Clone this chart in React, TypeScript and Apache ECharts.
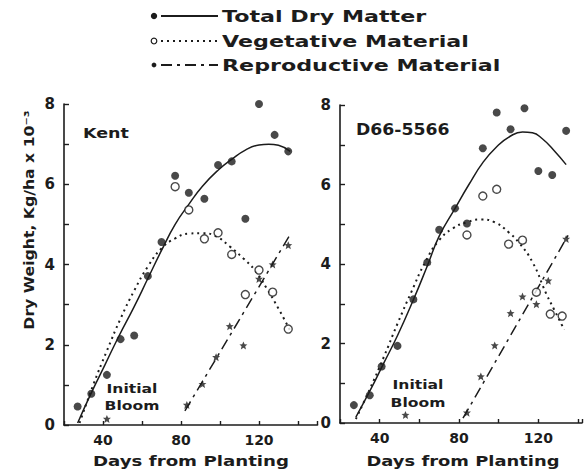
import React, { useEffect, useRef } from "react";
import * as echarts from "echarts";

// ---------- Data ----------
// Kent
const kentTotalDays = [27, 34, 42, 49, 56, 63, 70, 77, 84, 92, 99, 106, 113, 120, 128, 135];
const kentTotal = [0.46, 0.78, 1.25, 2.14, 2.23, 3.71, 4.56, 6.21, 5.79, 5.64, 6.48, 6.57, 5.14, 8.0, 7.23, 6.82];
const kentVegDays = [77, 84, 92, 99, 106, 113, 120, 127, 135];
const kentVeg = [5.94, 5.36, 4.64, 4.79, 4.25, 3.25, 3.86, 3.31, 2.39];
const kentReproDays = [42, 83, 91, 98, 105, 112, 120, 127, 135];
const kentRepro = [0.15, 0.5, 1.02, 1.69, 2.46, 1.98, 3.64, 4.0, 4.48];

const kentTotalFitDays = [27, 34, 41, 48, 56, 63, 70, 77, 84, 91, 99, 106, 113, 120, 125, 130, 136];
const kentTotalFit = [0.05, 0.8, 1.5, 2.2, 2.95, 3.65, 4.35, 5.0, 5.5, 5.95, 6.35, 6.62, 6.85, 6.98, 7.0, 6.97, 6.82];
const kentVegFitDays = [28, 35, 42, 49, 56, 63, 70, 77, 84, 91, 98, 105, 112, 118, 124, 130, 136];
const kentVegFit = [0.05, 1.0, 1.85, 2.65, 3.35, 3.95, 4.4, 4.65, 4.77, 4.78, 4.7, 4.45, 4.15, 3.85, 3.4, 2.9, 2.35];
const kentReproFitDays = [82, 136];
const kentReproFit = [0.35, 4.75];

// D66-5566
const d66TotalDays = [27, 35, 41, 49, 57, 64, 70, 78, 84, 92, 99, 106, 113, 120, 127, 134];
const d66Total = [0.45, 0.7, 1.42, 1.94, 3.11, 4.04, 4.86, 5.4, 5.02, 6.91, 7.81, 7.39, 7.92, 6.34, 6.24, 7.35];
const d66VegDays = [84, 92, 99, 105, 112, 119, 126, 132];
const d66Veg = [4.73, 5.71, 5.88, 4.5, 4.6, 3.29, 2.74, 2.69];
const d66ReproDays = [53, 84, 91, 98, 106, 112, 119, 125, 134];
const d66Repro = [0.2, 0.26, 1.17, 1.95, 2.76, 3.18, 2.99, 3.58, 4.63];

const d66TotalFitDays = [28, 35, 42, 49, 57, 64, 70, 78, 85, 92, 99, 106, 112, 117, 122, 128, 134];
const d66TotalFit = [0.15, 0.8, 1.5, 2.2, 3.1, 3.95, 4.7, 5.4, 6.0, 6.55, 6.95, 7.22, 7.32, 7.3, 7.15, 6.85, 6.5];
const d66VegFitDays = [28, 35, 42, 49, 56, 63, 70, 77, 84, 91, 98, 105, 110, 117, 124, 128, 133];
const d66VegFit = [0.1, 0.85, 1.65, 2.5, 3.3, 4.05, 4.6, 4.9, 5.05, 5.12, 5.05, 4.8, 4.55, 4.05, 3.25, 2.85, 2.35];
const d66ReproFitDays = [82, 136];
const d66ReproFit = [0.12, 4.81];

const xLabelTicks = [40, 80, 120];
const yLabelTicks = [0, 2, 4, 6, 8];

const legendLabels = ["Total Dry Matter", "Vegetative Material", "Reproductive Material"];
const panelNames = ["Kent", "D66-5566"];

const INK = "#1c1c1c";
const FONT = "DejaVu Sans";
const STAR =
  "path://M0,-5L1.5,-1.6L5,-1.5L2.3,0.8L3.2,4.7L0,2.6L-3.2,4.7L-2.3,0.8L-5,-1.5L-1.5,-1.6Z";

const pairs = (xs: number[], ys: number[]) => xs.map((x, i) => [x, ys[i]]);

function xAxisCfg(gridIndex: number, min: number, max: number) {
  return {
    type: "value",
    gridIndex,
    min,
    max,
    interval: 20,
    splitLine: { show: false },
    axisLine: { show: true, onZero: false, lineStyle: { color: INK, width: 1.6 } },
    axisTick: { show: true, inside: true, length: 4, lineStyle: { color: INK, width: 1.4 } },
    axisLabel: {
      margin: 8,
      color: INK,
      fontFamily: FONT,
      fontWeight: "bold",
      fontSize: 14,
      formatter: (v: number) => (xLabelTicks.includes(v) ? String(v) : ""),
    },
  };
}

function yAxisCfg(gridIndex: number) {
  return {
    type: "value",
    gridIndex,
    min: 0,
    max: 8,
    interval: 1,
    splitLine: { show: false },
    axisLine: { show: true, onZero: false, lineStyle: { color: INK, width: 1.6 } },
    axisTick: { show: true, inside: true, length: 5, lineStyle: { color: INK, width: 1.4 } },
    axisLabel: {
      margin: 9,
      color: INK,
      fontFamily: FONT,
      fontWeight: "bold",
      fontSize: 15,
      formatter: (v: number) => (yLabelTicks.includes(v) ? String(v) : ""),
    },
  };
}

function panelSeries(
  idx: number,
  total: number[][],
  veg: number[][],
  repro: number[][],
  totalFit: number[][],
  vegFit: number[][],
  reproFit: number[][]
) {
  const base = { xAxisIndex: idx, yAxisIndex: idx };
  return [
    {
      ...base,
      name: legendLabels[0] + " fit",
      type: "line",
      data: totalFit,
      smooth: true,
      showSymbol: false,
      lineStyle: { color: INK, width: 1.5 },
      z: 2,
    },
    {
      ...base,
      name: legendLabels[1] + " fit",
      type: "line",
      data: vegFit,
      smooth: true,
      showSymbol: false,
      lineStyle: { color: INK, width: 2, type: [2, 4] },
      z: 2,
    },
    {
      ...base,
      name: legendLabels[2] + " fit",
      type: "line",
      data: reproFit,
      showSymbol: false,
      lineStyle: { color: INK, width: 1.5, type: [11, 5, 3, 5] },
      z: 2,
    },
    {
      ...base,
      name: legendLabels[1],
      type: "scatter",
      data: veg,
      symbol: "circle",
      symbolSize: 8,
      itemStyle: { color: "#ffffff", borderColor: INK, borderWidth: 1.4 },
      z: 3,
    },
    {
      ...base,
      name: legendLabels[0],
      type: "scatter",
      data: total,
      symbol: "circle",
      symbolSize: 8,
      itemStyle: { color: INK },
      z: 4,
    },
    {
      ...base,
      name: legendLabels[2],
      type: "scatter",
      data: repro,
      symbol: STAR,
      symbolSize: 8,
      itemStyle: { color: INK },
      z: 4,
    },
  ];
}

function textEl(text: string, x: number, y: number, size: number, scaleX: number, align = "left", rotation = 0) {
  return {
    type: "text",
    x,
    y,
    scaleX,
    rotation,
    style: {
      text,
      fill: INK,
      fontFamily: FONT,
      fontWeight: "bold",
      fontSize: size,
      align,
      verticalAlign: "middle",
      textAlign: align,
      textVerticalAlign: "middle",
    },
  };
}

export default function App() {
  const ref = useRef<HTMLDivElement>(null);

  useEffect(() => {
    if (!ref.current) return;
    const chart = echarts.init(ref.current, undefined, { renderer: "svg" });

    const legendY = [16, 41, 65];
    const legendGraphics: any[] = [];
    legendY.forEach((y, i) => {
      if (i === 0) {
        legendGraphics.push({ type: "circle", shape: { cx: 154, cy: y, r: 3.2 }, style: { fill: INK } });
      } else if (i === 1) {
        legendGraphics.push({
          type: "circle",
          shape: { cx: 154, cy: y, r: 2.8 },
          style: { fill: "#fff", stroke: INK, lineWidth: 1.2 },
        });
      } else {
        legendGraphics.push({ type: "circle", shape: { cx: 154, cy: y, r: 2.4 }, style: { fill: INK } });
      }
      const dash = i === 0 ? null : i === 1 ? [2, 4] : [11, 5, 3, 5];
      legendGraphics.push({
        type: "line",
        shape: { x1: 161, y1: y, x2: 218, y2: y },
        style: { stroke: INK, lineWidth: i === 1 ? 2 : 1.8, lineDash: dash },
      });
      legendGraphics.push(textEl(legendLabels[i], 222, y, 15, 1.48));
    });

    const option: any = {
      animation: false,
      backgroundColor: "#ffffff",
      grid: [
        { left: 64, top: 104, width: 253.5, height: 321 },
        { left: 340, top: 105, width: 243, height: 318 },
      ],
      xAxis: [xAxisCfg(0, 20, 150), xAxisCfg(1, 20, 142)],
      yAxis: [yAxisCfg(0), yAxisCfg(1)],
      series: [
        ...panelSeries(
          0,
          pairs(kentTotalDays, kentTotal),
          pairs(kentVegDays, kentVeg),
          pairs(kentReproDays, kentRepro),
          pairs(kentTotalFitDays, kentTotalFit),
          pairs(kentVegFitDays, kentVegFit),
          pairs(kentReproFitDays, kentReproFit)
        ),
        ...panelSeries(
          1,
          pairs(d66TotalDays, d66Total),
          pairs(d66VegDays, d66Veg),
          pairs(d66ReproDays, d66Repro),
          pairs(d66TotalFitDays, d66TotalFit),
          pairs(d66VegFitDays, d66VegFit),
          pairs(d66ReproFitDays, d66ReproFit)
        ),
      ],
      graphic: [
        ...legendGraphics,
        textEl(panelNames[0], 83, 133, 14, 1.25),
        textEl(panelNames[1], 356, 130, 15, 1.15),
        textEl("Initial", 132, 388, 13, 1.2, "center"),
        textEl("Bloom", 132, 405, 13, 1.2, "center"),
        textEl("Initial", 418, 384, 13, 1.2, "center"),
        textEl("Bloom", 418, 402, 13, 1.2, "center"),
        textEl("Days from Planting", 191, 461, 14, 1.3, "center"),
        textEl("Days from Planting", 463, 461, 14, 1.28, "center"),
        textEl("Dry Weight, Kg/ha x 10⁻³", 29, 220, 14, 1.12, "center", Math.PI / 2),
      ],
    };

    chart.setOption(option);
    return () => chart.dispose();
  }, []);

  return (
    <div
      ref={ref}
      style={{ position: "fixed", left: 0, top: 0, width: 585, height: 473, background: "#fff" }}
    />
  );
}
